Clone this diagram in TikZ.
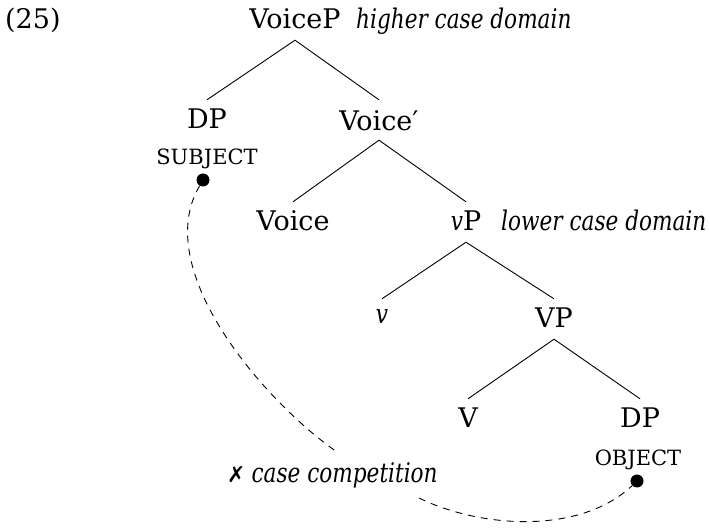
\documentclass[tikz,border=0pt]{standalone}
\usepackage{fontspec}
\setmainfont{DejaVu Serif}
\newfontfamily\symfont{DejaVu Sans}
\newfontfamily\itfont{DejaVu Serif Italic}[FakeStretch=0.8]
\begin{document}
\begin{tikzpicture}[x=1pt,y=-1pt,
  every node/.style={font=\fontsize{27}{30}\selectfont},
  cat/.style={anchor=base, text height=20pt, text depth=2pt, inner xsep=1pt, inner ysep=9pt},
  note/.style={font=\fontsize{27}{30}\itfont, anchor=base west, inner sep=0pt},
  sc/.style={font=\fontsize{21}{24}\selectfont, anchor=base, inner sep=0pt},
  branch/.style={line width=0.9pt},
  link/.style={line width=0.9pt, dash pattern=on 7pt off 6pt},
  dot/.style={circle, fill=black, inner sep=0pt, minimum size=13pt}]
\useasboundingbox (0,0) rectangle (710,529);
\node[anchor=base west, inner sep=0pt] (ex) at (5,29) {(25)};
\node[cat] (voicep) at (295,29) {VoiceP};
\node[note] (hcd) at (356,29) {higher case domain};
\node[cat] (dp1) at (207,129) {DP};
\node[cat] (voicebar) at (379,129) {\raisebox{-2pt}{Voice′}};
\node[sc] (subj) at (207,165) {SUBJECT};
\node[dot] (sdot) at (203,180) {};
\node[cat] (voice) at (293,231) {Voice};
\node[cat] (vp) at (466,231) {{\itfont v}P};
\node[note] (lcd) at (501,231) {lower case domain};
\node[cat] (v) at (382,328) {\raisebox{4pt}{\itfont v}};
\node[cat] (VP) at (554,328) {VP};
\node[cat] (V) at (468,428) {V};
\node[cat] (dp2) at (640,428) {DP};
\node[sc] (obj) at (638,465) {OBJECT};
\node[dot] (odot) at (637,481) {};
\node[note] (cc) at (227,482) {{\symfont\fontsize{22}{24}\selectfont ✗}\hspace{6pt}case competition};
\coordinate (c1) at (337,452);
\coordinate (c2) at (419,498);
\draw[branch] (voicep.south) -- (dp1.north);
\draw[branch] (voicep.south) -- (voicebar.north);
\draw[branch] (voicebar.south) -- (voice.north);
\draw[branch] (voicebar.south) -- (vp.north);
\draw[branch] (vp.south) -- (v.north);
\draw[branch] (vp.south) -- (VP.north);
\draw[branch] (VP.south) -- (V.north);
\draw[branch] (VP.south) -- (dp2.north);
\draw[link] (sdot) .. controls (150,270) and (265,402) .. (c1);
\draw[link] (c2) .. controls (480,528) and (580,535) .. (odot);
\end{tikzpicture}
\end{document}
